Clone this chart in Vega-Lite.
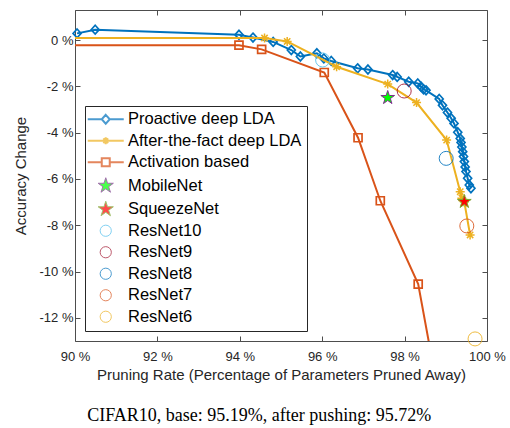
{
  "$schema": "https://vega.github.io/schema/vega-lite/v6.json",
  "width": 412,
  "height": 331,
  "autosize": {"type": "none"},
  "padding": {"left": 75, "top": 10, "right": 23, "bottom": 87},
  "background": "white",
  "title": {
    "text": "CIFAR10, base: 95.19%, after pushing: 95.72%",
    "orient": "bottom",
    "frame": "bounds",
    "anchor": "middle",
    "font": "Liberation Serif",
    "fontSize": 18,
    "fontWeight": "normal",
    "color": "black",
    "offset": 25
  },
  "datasets": {
    "curves": [
      {"series": "Proactive deep LDA", "x": 90.05, "y": 0.29},
      {"series": "Proactive deep LDA", "x": 90.49, "y": 0.45},
      {"series": "Proactive deep LDA", "x": 93.98, "y": 0.23},
      {"series": "Proactive deep LDA", "x": 94.32, "y": 0.11},
      {"series": "Proactive deep LDA", "x": 94.81, "y": -0.08},
      {"series": "Proactive deep LDA", "x": 95.25, "y": -0.43},
      {"series": "Proactive deep LDA", "x": 95.47, "y": -0.71},
      {"series": "Proactive deep LDA", "x": 95.87, "y": -0.57},
      {"series": "Proactive deep LDA", "x": 96.04, "y": -0.79},
      {"series": "Proactive deep LDA", "x": 96.22, "y": -0.9},
      {"series": "Proactive deep LDA", "x": 96.86, "y": -1.22},
      {"series": "Proactive deep LDA", "x": 97.11, "y": -1.27},
      {"series": "Proactive deep LDA", "x": 97.71, "y": -1.51},
      {"series": "Proactive deep LDA", "x": 97.82, "y": -1.59},
      {"series": "Proactive deep LDA", "x": 98.1, "y": -1.8},
      {"series": "Proactive deep LDA", "x": 98.32, "y": -1.87},
      {"series": "Proactive deep LDA", "x": 98.4, "y": -2.01},
      {"series": "Proactive deep LDA", "x": 98.46, "y": -2.13},
      {"series": "Proactive deep LDA", "x": 98.52, "y": -2.17},
      {"series": "Proactive deep LDA", "x": 98.84, "y": -2.54},
      {"series": "Proactive deep LDA", "x": 98.92, "y": -2.82},
      {"series": "Proactive deep LDA", "x": 99.04, "y": -3.13},
      {"series": "Proactive deep LDA", "x": 99.13, "y": -3.38},
      {"series": "Proactive deep LDA", "x": 99.2, "y": -3.6},
      {"series": "Proactive deep LDA", "x": 99.29, "y": -3.98},
      {"series": "Proactive deep LDA", "x": 99.35, "y": -4.25},
      {"series": "Proactive deep LDA", "x": 99.37, "y": -4.42},
      {"series": "Proactive deep LDA", "x": 99.39, "y": -4.62},
      {"series": "Proactive deep LDA", "x": 99.41, "y": -4.82},
      {"series": "Proactive deep LDA", "x": 99.43, "y": -5.03},
      {"series": "Proactive deep LDA", "x": 99.45, "y": -5.25},
      {"series": "Proactive deep LDA", "x": 99.47, "y": -5.48},
      {"series": "Proactive deep LDA", "x": 99.49, "y": -5.68},
      {"series": "Proactive deep LDA", "x": 99.53, "y": -5.97},
      {"series": "Proactive deep LDA", "x": 99.57, "y": -6.26},
      {"series": "Proactive deep LDA", "x": 99.61, "y": -6.4},
      {"series": "After-the-fact deep LDA", "x": 89.0, "y": 0.09},
      {"series": "After-the-fact deep LDA", "x": 94.6, "y": 0.09},
      {"series": "After-the-fact deep LDA", "x": 95.15, "y": -0.06},
      {"series": "After-the-fact deep LDA", "x": 96.35, "y": -1.15},
      {"series": "After-the-fact deep LDA", "x": 97.59, "y": -1.9},
      {"series": "After-the-fact deep LDA", "x": 98.29, "y": -2.7},
      {"series": "After-the-fact deep LDA", "x": 99.02, "y": -4.32},
      {"series": "After-the-fact deep LDA", "x": 99.35, "y": -6.55},
      {"series": "After-the-fact deep LDA", "x": 99.39, "y": -6.83},
      {"series": "After-the-fact deep LDA", "x": 99.45, "y": -7.0},
      {"series": "After-the-fact deep LDA", "x": 99.59, "y": -8.42},
      {"series": "Activation based", "x": 89.0, "y": -0.22},
      {"series": "Activation based", "x": 93.98, "y": -0.22},
      {"series": "Activation based", "x": 94.53, "y": -0.4},
      {"series": "Activation based", "x": 96.05, "y": -1.4},
      {"series": "Activation based", "x": 96.87, "y": -4.22},
      {"series": "Activation based", "x": 97.41, "y": -6.94},
      {"series": "Activation based", "x": 98.33, "y": -10.54},
      {"series": "Activation based", "x": 98.8, "y": -15.1}
    ],
    "models": [
      {"series": "MobileNet", "kind": "star", "x": 97.59, "y": -2.49},
      {"series": "SqueezeNet", "kind": "star", "x": 99.45, "y": -6.98},
      {"series": "ResNet10", "kind": "circle", "x": 96.01, "y": -0.86},
      {"series": "ResNet9", "kind": "circle", "x": 97.99, "y": -2.2},
      {"series": "ResNet8", "kind": "circle", "x": 99.01, "y": -5.11},
      {"series": "ResNet7", "kind": "circle", "x": 99.51, "y": -8.03},
      {"series": "ResNet6", "kind": "circle", "x": 99.71, "y": -12.91}
    ]
  },
  "layer": [
    {
      "data": {"name": "curves"},
      "transform": [{"filter": "datum.series === 'Proactive deep LDA'"}],
      "mark": {"type": "line", "stroke": "#0072BD", "strokeWidth": 2, "clip": true},
      "encoding": {
        "x": {
          "field": "x", "type": "quantitative",
          "scale": {"domain": [90, 100], "nice": false, "zero": false},
          "axis": {
            "orient": "bottom", "values": [90, 92, 94, 96, 98, 100],
            "labelExpr": "datum.value + ' %'",
            "title": "Pruning Rate (Percentage of Parameters Pruned Away)",
            "grid": false, "tickSize": -5, "tickWidth": 1, "labelPadding": 14, "labelFlush": false,
            "domainColor": "#4d4d4d", "tickColor": "#4d4d4d", "labelColor": "#262626",
            "labelFont": "Liberation Sans", "labelFontSize": 13,
            "titleFont": "Liberation Sans", "titleFontSize": 15, "titleFontWeight": "normal",
            "titleColor": "#262626", "titlePadding": 4
          }
        },
        "y": {
          "field": "y", "type": "quantitative",
          "scale": {"domain": [-13, 1.3], "nice": false, "zero": false},
          "axis": {
            "orient": "left", "values": [-12, -10, -8, -6, -4, -2, 0],
            "labelExpr": "datum.value + ' %'",
            "title": "Accuracy Change",
            "grid": false, "tickSize": -5, "tickWidth": 1, "labelPadding": 7, "labelFlush": false,
            "domainColor": "#4d4d4d", "tickColor": "#4d4d4d", "labelColor": "#262626",
            "labelFont": "Liberation Sans", "labelFontSize": 13,
            "titleFont": "Liberation Sans", "titleFontSize": 15, "titleFontWeight": "normal",
            "titleColor": "#262626", "titlePadding": 11
          }
        }
      }
    },
    {
      "data": {"name": "curves"},
      "transform": [{"filter": "datum.series === 'Proactive deep LDA'"}],
      "mark": {"type": "point", "shape": "M0,-1.1L1,0L0,1.1L-1,0Z", "size": 64, "filled": false, "stroke": "#0072BD", "strokeWidth": 1.7, "opacity": 1},
      "encoding": {
        "x": {"field": "x", "type": "quantitative", "axis": null},
        "y": {"field": "y", "type": "quantitative", "axis": null}
      }
    },
    {
      "data": {"name": "curves"},
      "transform": [{"filter": "datum.series === 'After-the-fact deep LDA'"}],
      "mark": {"type": "line", "stroke": "#EDB120", "strokeWidth": 2, "clip": true},
      "encoding": {
        "x": {
          "field": "x", "type": "quantitative",
          "axis": {
            "orient": "top", "values": [90, 92, 94, 96, 98, 100], "labels": false, "title": null,
            "grid": false, "tickSize": -5, "tickWidth": 1, "domainColor": "#4d4d4d", "tickColor": "#4d4d4d"
          }
        },
        "y": {
          "field": "y", "type": "quantitative",
          "axis": {
            "orient": "right", "values": [-12, -10, -8, -6, -4, -2, 0], "labels": false, "title": null,
            "grid": false, "tickSize": -5, "tickWidth": 1, "domainColor": "#4d4d4d", "tickColor": "#4d4d4d"
          }
        }
      }
    },
    {
      "data": {"name": "curves"},
      "transform": [{"filter": "datum.series === 'After-the-fact deep LDA'"}],
      "mark": {"type": "point", "shape": "M-1,0H1M0,-1V1M-0.7,-0.7L0.7,0.7M-0.7,0.7L0.7,-0.7", "size": 81, "filled": false, "stroke": "#EDB120", "strokeWidth": 1.5, "opacity": 1, "clip": true},
      "encoding": {
        "x": {"field": "x", "type": "quantitative", "axis": null},
        "y": {"field": "y", "type": "quantitative", "axis": null}
      }
    },
    {
      "data": {"name": "curves"},
      "transform": [{"filter": "datum.series === 'Activation based'"}],
      "mark": {"type": "line", "stroke": "#D95319", "strokeWidth": 2, "clip": true},
      "encoding": {
        "x": {"field": "x", "type": "quantitative", "axis": null},
        "y": {"field": "y", "type": "quantitative", "axis": null}
      }
    },
    {
      "data": {"name": "curves"},
      "transform": [{"filter": "datum.series === 'Activation based'"}],
      "mark": {"type": "point", "shape": "M-1,-1H1V1H-1Z", "size": 64, "filled": false, "stroke": "#D95319", "strokeWidth": 1.7, "opacity": 1, "clip": true},
      "encoding": {
        "x": {"field": "x", "type": "quantitative", "axis": null},
        "y": {"field": "y", "type": "quantitative", "axis": null}
      }
    },
    {
      "data": {"name": "models"},
      "transform": [{"filter": "datum.kind === 'circle'"}],
      "mark": {"type": "point", "shape": "circle", "size": 196, "filled": false, "strokeWidth": 1, "opacity": 0.85},
      "encoding": {
        "x": {"field": "x", "type": "quantitative", "axis": null},
        "y": {"field": "y", "type": "quantitative", "axis": null},
        "color": {
          "field": "series", "type": "nominal", "legend": null,
          "scale": {
            "domain": ["ResNet10", "ResNet9", "ResNet8", "ResNet7", "ResNet6"],
            "range": ["#4DBEEE", "#A2142F", "#0072BD", "#D95319", "#EDB120"]
          }
        }
      }
    },
    {
      "data": {"name": "models"},
      "transform": [{"filter": "datum.series === 'MobileNet'"}],
      "mark": {"type": "point", "shape": "M0,-2L0.447,-0.615L1.902,-0.618L0.723,0.235L1.176,1.618L0,0.76L-1.176,1.618L-0.723,0.235L-1.902,-0.618L-0.447,-0.615Z", "size": 52, "filled": true, "fill": "#00FF00", "stroke": "#7E2F8E", "strokeWidth": 1, "opacity": 1},
      "encoding": {
        "x": {"field": "x", "type": "quantitative", "axis": null},
        "y": {"field": "y", "type": "quantitative", "axis": null}
      }
    },
    {
      "data": {"name": "models"},
      "transform": [{"filter": "datum.series === 'SqueezeNet'"}],
      "mark": {"type": "point", "shape": "M0,-2L0.447,-0.615L1.902,-0.618L0.723,0.235L1.176,1.618L0,0.76L-1.176,1.618L-0.723,0.235L-1.902,-0.618L-0.447,-0.615Z", "size": 52, "filled": true, "fill": "#FF0000", "stroke": "#77AC30", "strokeWidth": 1, "opacity": 1},
      "encoding": {
        "x": {"field": "x", "type": "quantitative", "axis": null},
        "y": {"field": "y", "type": "quantitative", "axis": null}
      }
    },
    {
      "data": {"name": "models"},
      "transform": [{"filter": "datum.x > 1000"}],
      "mark": {"type": "point", "filled": true, "size": 64},
      "encoding": {
        "x": {"field": "x", "type": "quantitative", "axis": null},
        "y": {"field": "y", "type": "quantitative", "axis": null},
        "stroke": {
          "field": "series", "type": "nominal", "legend": {"title": null},
          "scale": {
            "domain": ["Proactive deep LDA", "After-the-fact deep LDA", "Activation based", "MobileNet", "SqueezeNet", "ResNet10", "ResNet9", "ResNet8", "ResNet7", "ResNet6"],
            "range": ["#0072BD", "#EDB120", "#D95319", "#7E2F8E", "#77AC30", "#4DBEEE", "#A2142F", "#0072BD", "#D95319", "#EDB120"]
          }
        },
        "fill": {
          "field": "series", "type": "nominal", "legend": {"title": null},
          "scale": {
            "domain": ["Proactive deep LDA", "After-the-fact deep LDA", "Activation based", "MobileNet", "SqueezeNet", "ResNet10", "ResNet9", "ResNet8", "ResNet7", "ResNet6"],
            "range": ["white", "white", "white", "#00FF00", "#FF0000", "transparent", "transparent", "transparent", "transparent", "transparent"]
          }
        },
        "shape": {
          "field": "series", "type": "nominal", "legend": {"title": null},
          "scale": {
            "domain": ["Proactive deep LDA", "After-the-fact deep LDA", "Activation based", "MobileNet", "SqueezeNet", "ResNet10", "ResNet9", "ResNet8", "ResNet7", "ResNet6"],
            "range": [
              "M-4.5,0H-1M1,0H4.5M0,-1.1L1,0L0,1.1L-1,0Z",
              "M-4.5,0H4.5M0,-0.85V0.85M-0.6,-0.6L0.6,0.6M-0.6,0.6L0.6,-0.6",
              "M-4.5,0H-1M1,0H4.5M-1,-1H1V1H-1Z",
              "M0,-2L0.447,-0.615L1.902,-0.618L0.723,0.235L1.176,1.618L0,0.76L-1.176,1.618L-0.723,0.235L-1.902,-0.618L-0.447,-0.615Z",
              "M0,-2L0.447,-0.615L1.902,-0.618L0.723,0.235L1.176,1.618L0,0.76L-1.176,1.618L-0.723,0.235L-1.902,-0.618L-0.447,-0.615Z",
              "M-1.4,0A1.4,1.4,0,1,0,1.4,0A1.4,1.4,0,1,0,-1.4,0Z",
              "M-1.4,0A1.4,1.4,0,1,0,1.4,0A1.4,1.4,0,1,0,-1.4,0Z",
              "M-1.4,0A1.4,1.4,0,1,0,1.4,0A1.4,1.4,0,1,0,-1.4,0Z",
              "M-1.4,0A1.4,1.4,0,1,0,1.4,0A1.4,1.4,0,1,0,-1.4,0Z",
              "M-1.4,0A1.4,1.4,0,1,0,1.4,0A1.4,1.4,0,1,0,-1.4,0Z"
            ]
          }
        },
        "strokeWidth": {
          "field": "series", "type": "nominal", "legend": {"title": null},
          "scale": {
            "type": "ordinal",
            "domain": ["Proactive deep LDA", "After-the-fact deep LDA", "Activation based", "MobileNet", "SqueezeNet", "ResNet10", "ResNet9", "ResNet8", "ResNet7", "ResNet6"],
            "range": [2, 2, 2, 1, 1, 1, 1, 1, 1, 1]
          }
        }
      }
    }
  ],
  "resolve": {"axis": {"x": "independent", "y": "independent"}},
  "config": {
    "view": {"stroke": null},
    "font": "Liberation Sans",
    "legend": {
      "orient": "bottom-left",
      "offset": 10,
      "padding": 5,
      "strokeColor": "#262626",
      "fillColor": "white",
      "labelFont": "Liberation Sans",
      "labelFontSize": 16.5,
      "labelColor": "black",
      "labelLimit": 400,
      "symbolSize": 64,
      "symbolOffset": 7.5,
      "labelOffset": 14,
      "rowPadding": 4.5,
      "symbolFillColor": "white",
      "symbolStrokeColor": "black"
    }
  }
}
